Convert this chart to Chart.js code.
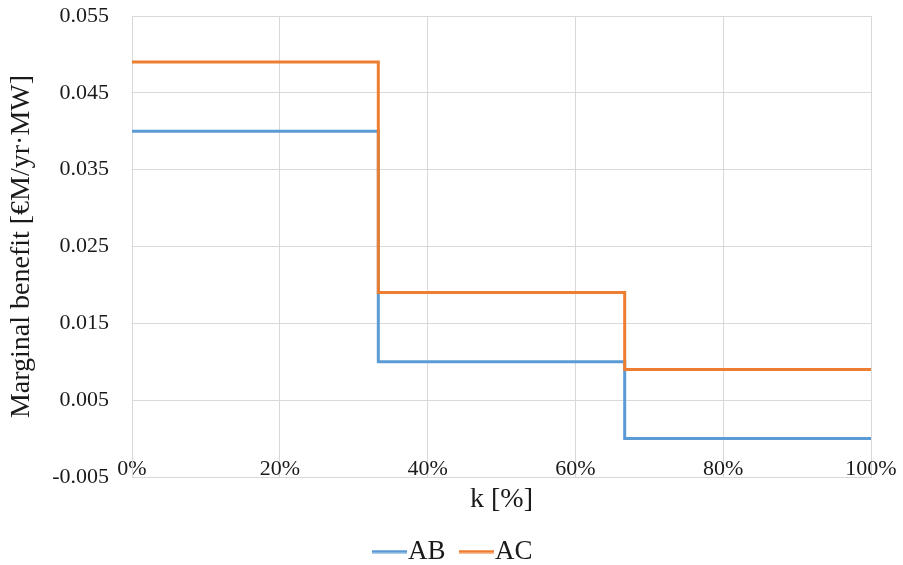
<!DOCTYPE html>
<html>
<head>
<meta charset="utf-8">
<script src="https://cdn.jsdelivr.net/npm/chart.js@4/dist/chart.umd.min.js"></script>
<style>
  html, body { margin: 0; padding: 0; background: #fff; }
  #wrap { width: 903px; height: 565px; }
</style>
</head>
<body>
<div id="wrap"><canvas id="benefitChart" width="903" height="565"></canvas></div>
<script>
// step breakpoints along k [%] and the marginal benefit on each step
const kSteps = [0, 33.33, 66.67, 100];
const abValues = [0.04, 0.01, 0, 0];
const acValues = [0.049, 0.019, 0.009, 0.009];
const yTicks = [-0.005, 0.005, 0.015, 0.025, 0.035, 0.045, 0.055];

const seriesNames = ['AB', 'AC'];
const blue = '#5B9BD5';
const orange = '#ED7D31';
const gridColor = '#d9d9d9';
const textColor = '#1a1a1a';
const fontFamily = '"Liberation Serif", "Times New Roman", serif';

// line sample for the legend: the image is wider than its box,
// the line sits on the right so it runs up to the label text
function legendLine(color) {
    const c = document.createElement('canvas');
    c.width = 60;
    c.height = 4;
    const g = c.getContext('2d');
    g.fillStyle = color;
    g.fillRect(25, 0.5, 35, 3);
    return c;
}

function toPoints(values) {
    return kSteps.map((k, i) => ({ x: k, y: values[i] }));
}

const ctx = document.getElementById('benefitChart').getContext('2d');

new Chart(ctx, {
    type: 'line',
    data: {
        datasets: [{
            label: seriesNames[0],
            data: toPoints(abValues),
            borderColor: blue,
            backgroundColor: blue,
            borderWidth: 3,
            pointRadius: 0,
            stepped: true,
            order: 1,
            pointStyle: legendLine(blue)
        }, {
            label: seriesNames[1],
            data: toPoints(acValues),
            borderColor: orange,
            backgroundColor: orange,
            borderWidth: 3,
            pointRadius: 0,
            stepped: true,
            order: 0,
            pointStyle: legendLine(orange)
        }]
    },
    options: {
        responsive: false,
        animation: false,
        layout: {
            padding: { top: 16, right: 11, left: 0, bottom: 0 }
        },
        scales: {
            x: {
                type: 'linear',
                min: 0,
                max: 100,
                ticks: {
                    stepSize: 20,
                    mirror: true,
                    padding: -5,
                    color: textColor,
                    font: { family: fontFamily, size: 22 },
                    callback: v => v + '%'
                },
                grid: { color: gridColor, drawTicks: false },
                border: { color: gridColor },
                title: {
                    display: true,
                    text: 'k [%]',
                    color: textColor,
                    font: { family: fontFamily, size: 28 },
                    padding: { top: 0, bottom: 21 }
                },
                afterFit: scale => {
                    scale.height = 60;
                    scale.paddingRight = 32;
                }
            },
            y: {
                min: -0.005,
                max: 0.055,
                afterBuildTicks: scale => {
                    scale.ticks = yTicks.map(v => ({ value: v }));
                },
                ticks: {
                    padding: 23,
                    color: textColor,
                    font: { family: fontFamily, size: 22 },
                    callback: v => v.toFixed(3)
                },
                grid: { color: gridColor, drawTicks: false },
                border: { color: gridColor },
                title: {
                    display: true,
                    text: 'Marginal benefit [€M/yr·MW]',
                    color: textColor,
                    font: { family: fontFamily, size: 28 },
                    padding: { top: 5, bottom: 0 }
                },
                afterFit: scale => {
                    scale.width = 132;
                    scale.paddingTop = 10;
                    scale.paddingBottom = 10;
                }
            }
        },
        plugins: {
            legend: {
                position: 'bottom',
                maxHeight: 28,
                labels: {
                    usePointStyle: true,
                    pointStyleWidth: 35,
                    padding: 1,
                    color: textColor,
                    font: { family: fontFamily, size: 27 },
                    sort: (a, b) => a.datasetIndex - b.datasetIndex
                }
            },
            tooltip: { enabled: false }
        }
    }
});
</script>
</body>
</html>
